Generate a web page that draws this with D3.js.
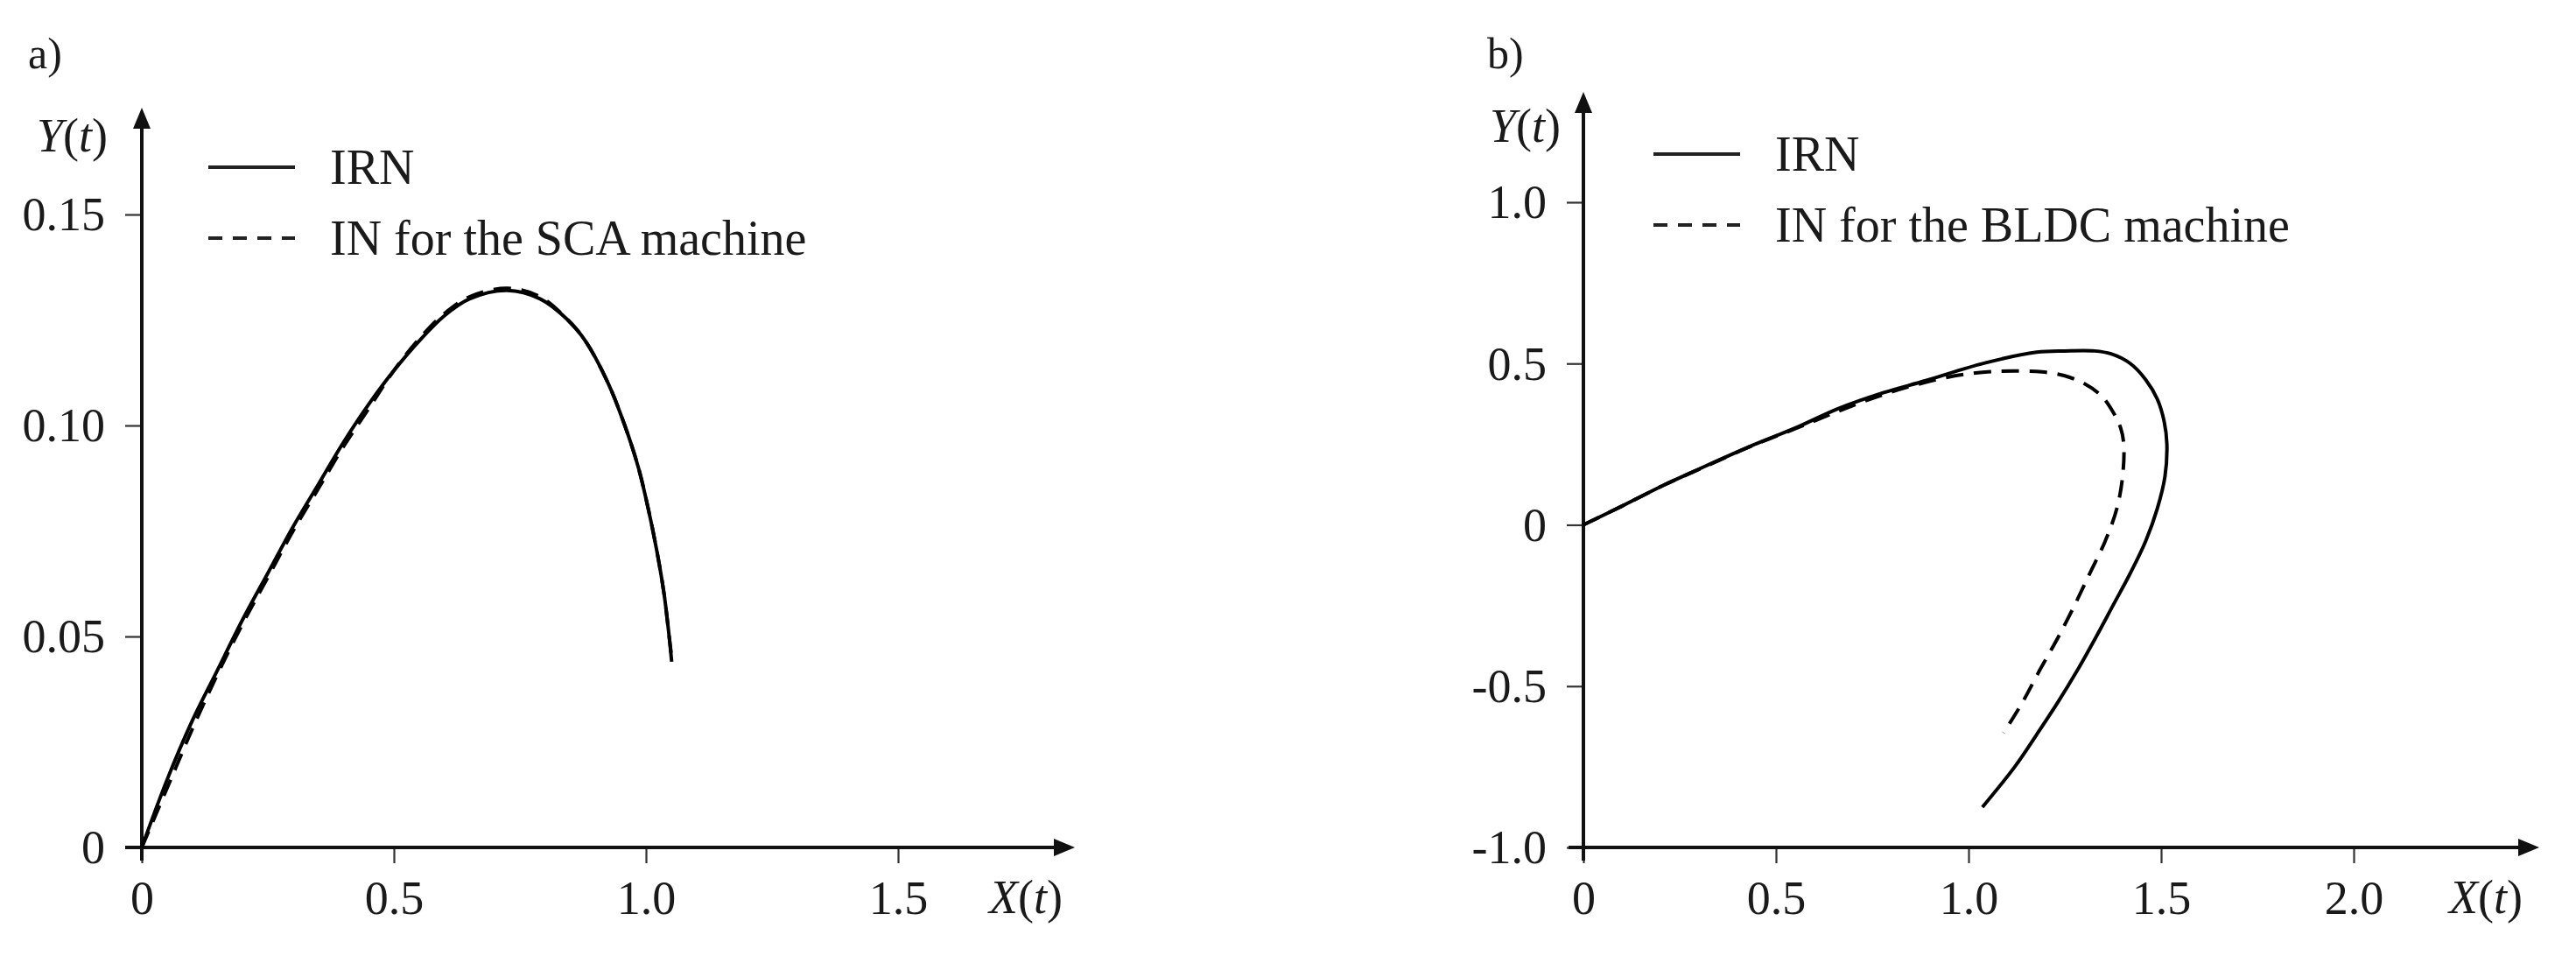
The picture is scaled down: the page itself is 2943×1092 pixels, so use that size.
<!DOCTYPE html>
<html>
<head>
<meta charset="utf-8">
<script src="https://cdn.jsdelivr.net/npm/d3@7"></script>
<style>
  html, body { margin: 0; padding: 0; background: #fff; }
  svg { display: block; }
  text { font-family: "Liberation Serif", "DejaVu Serif", serif; fill: #1a1a1a; }
</style>
</head>
<body>
<svg id="chart" width="2943" height="1092"></svg>
<script>
// ---------- DATA ----------
// Panel a) SCA machine
const aIRN_X = [0, 0.05, 0.1, 0.15, 0.2, 0.25, 0.3, 0.35, 0.4, 0.45, 0.5, 0.55, 0.6, 0.65, 0.725, 0.79, 0.845, 0.88, 0.925, 0.958, 0.985, 1.005, 1.022, 1.036, 1.046, 1.051];
const aIRN_Y = [0, 0.016, 0.030, 0.042, 0.054, 0.065, 0.076, 0.086, 0.096, 0.105, 0.113, 0.120, 0.126, 0.130, 0.132, 0.130, 0.125, 0.120, 0.110, 0.100, 0.090, 0.080, 0.070, 0.060, 0.050, 0.044];
const aIN_X  = [0, 0.05, 0.1, 0.15, 0.2, 0.25, 0.3, 0.35, 0.4, 0.45, 0.5, 0.55, 0.6, 0.65, 0.725, 0.79, 0.845, 0.88, 0.925, 0.958, 0.985, 1.005, 1.022, 1.036, 1.046, 1.051];
const aIN_Y  = [0, 0.014, 0.028, 0.041, 0.053, 0.064, 0.075, 0.085, 0.095, 0.104, 0.113, 0.1205, 0.1265, 0.1305, 0.1325, 0.1305, 0.125, 0.120, 0.110, 0.100, 0.090, 0.080, 0.070, 0.060, 0.050, 0.045];
const aXTicks = [0, 0.5, 1.0, 1.5];
const aXTickLabels = ["0", "0.5", "1.0", "1.5"];
const aYTicks = [0, 0.05, 0.10, 0.15];
const aYTickLabels = ["0", "0.05", "0.10", "0.15"];
const aLegend = ["IRN", "IN for the SCA machine"];

// Panel b) BLDC machine
const bIRN_X = [0, 0.1, 0.207, 0.3, 0.434, 0.55, 0.661, 0.78, 0.889, 1.04, 1.177, 1.25, 1.327, 1.37, 1.42, 1.46, 1.49, 1.508, 1.515, 1.51, 1.49, 1.46, 1.42, 1.375, 1.33, 1.283, 1.232, 1.177, 1.12, 1.036];
const bIRN_Y = [0, 0.058, 0.122, 0.173, 0.244, 0.300, 0.360, 0.410, 0.447, 0.501, 0.535, 0.539, 0.539, 0.530, 0.500, 0.450, 0.390, 0.320, 0.250, 0.150, 0.050, -0.050, -0.150, -0.250, -0.350, -0.450, -0.550, -0.650, -0.750, -0.875];
const bIN_X  = [0, 0.1, 0.207, 0.3, 0.434, 0.55, 0.661, 0.75, 0.836, 0.964, 1.05, 1.116, 1.191, 1.25, 1.30, 1.345, 1.375, 1.395, 1.403, 1.40, 1.385, 1.355, 1.315, 1.275, 1.232, 1.185, 1.14, 1.091];
const bIN_Y  = [0, 0.058, 0.122, 0.172, 0.243, 0.298, 0.352, 0.392, 0.425, 0.462, 0.474, 0.477, 0.474, 0.462, 0.438, 0.400, 0.350, 0.300, 0.250, 0.150, 0.050, -0.050, -0.150, -0.250, -0.350, -0.450, -0.550, -0.645];
const bXTicks = [0, 0.5, 1.0, 1.5, 2.0];
const bXTickLabels = ["0", "0.5", "1.0", "1.5", "2.0"];
const bYTicks = [-1.0, -0.5, 0, 0.5, 1.0];
const bYTickLabels = ["-1.0", "-0.5", "0", "0.5", "1.0"];
const bLegend = ["IRN", "IN for the BLDC machine"];

// ---------- DRAW ----------
const svg = d3.select("#chart");
const FS = 54;
const FS_LEG = 56;

function zip(xs, ys) { return xs.map((x, i) => [x, ys[i]]); }

function panel(opt) {
  const g = svg.append("g");
  const x = d3.scaleLinear().domain(opt.xDomain).range(opt.xRange);
  const y = d3.scaleLinear().domain(opt.yDomain).range(opt.yRange);
  const x0 = opt.xRange[0], yBase = opt.yRange[0];

  // axes with ticks
  const xAxis = d3.axisBottom(x).tickValues(opt.xTicks)
    .tickFormat((d, i) => opt.xTickLabels[i]).tickSize(18).tickPadding(20);
  const yAxis = d3.axisLeft(y).tickValues(opt.yTicks)
    .tickFormat((d, i) => opt.yTickLabels[i]).tickSize(19).tickPadding(23);

  const gx = g.append("g").attr("transform", `translate(0,${yBase})`).call(xAxis);
  const gy = g.append("g").attr("transform", `translate(${x0},0)`).call(yAxis);
  [gx, gy].forEach(a => {
    a.select(".domain").remove();
    a.selectAll(".tick line").attr("stroke", "#333").attr("stroke-width", 2.2);
    a.selectAll(".tick text").attr("font-size", FS).attr("fill", "#1a1a1a")
      .style("font-family", '"Liberation Serif", serif');
  });
  gx.selectAll(".tick text").attr("dy", "0.71em");
  gy.selectAll(".tick text").attr("dy", "0.33em");

  // axis lines with arrows
  g.append("line").attr("x1", opt.xLineStart).attr("x2", opt.xArrow - 14)
    .attr("y1", yBase).attr("y2", yBase).attr("stroke", "#111").attr("stroke-width", 4);
  g.append("path")
    .attr("d", `M${opt.xArrow},${yBase} L${opt.xArrow - 24},${yBase - 10} L${opt.xArrow - 24},${yBase + 10} Z`)
    .attr("fill", "#111");
  g.append("line").attr("x1", x0).attr("x2", x0)
    .attr("y1", yBase + 15).attr("y2", opt.yArrow + 14).attr("stroke", "#111").attr("stroke-width", 4);
  g.append("path")
    .attr("d", `M${x0},${opt.yArrow} L${x0 - 10},${opt.yArrow + 24} L${x0 + 10},${opt.yArrow + 24} Z`)
    .attr("fill", "#111");

  // axis titles
  const yt = g.append("text").attr("x", opt.yTitleX).attr("y", opt.yTitleY)
    .attr("text-anchor", "end").attr("font-size", FS).attr("fill", "#333");
  yt.append("tspan").attr("font-style", "italic").text("Y");
  yt.append("tspan").text("(");
  yt.append("tspan").attr("font-style", "italic").text("t");
  yt.append("tspan").text(")");
  const xt = g.append("text").attr("x", opt.xTitleX).attr("y", yBase + 75)
    .attr("text-anchor", "start").attr("font-size", FS).attr("fill", "#333");
  xt.append("tspan").attr("font-style", "italic").text("X");
  xt.append("tspan").text("(");
  xt.append("tspan").attr("font-style", "italic").text("t");
  xt.append("tspan").text(")");

  // panel letter
  g.append("text").attr("x", opt.letterX).attr("y", 78).attr("font-size", FS - 4)
    .text(opt.letter);

  // curves
  const line = d3.line().x(d => x(d[0])).y(d => y(d[1])).curve(d3.curveCatmullRom.alpha(0.5));
  g.append("path").datum(opt.irn).attr("d", line).attr("fill", "none")
    .attr("stroke", "#000").attr("stroke-width", 4).attr("stroke-linejoin", "round");
  g.append("path").datum(opt.inn).attr("d", line).attr("fill", "none")
    .attr("stroke", "#000").attr("stroke-width", 4).attr("stroke-dasharray", "20,12");

  // legend
  const lg = g.append("g");
  opt.legend.forEach((t, i) => {
    const ly = opt.legY + i * 81;
    lg.append("line").attr("x1", opt.legX).attr("x2", opt.legX + 99)
      .attr("y1", ly).attr("y2", ly).attr("stroke", "#222").attr("stroke-width", 4)
      .attr("stroke-dasharray", i === 1 ? "16,12" : null);
    lg.append("text").attr("x", opt.legX + 139).attr("y", ly + 19)
      .attr("font-size", FS_LEG).attr("fill", "#1a1a1a").text(t);
  });
}

panel({
  letter: "a)", letterX: 32,
  xDomain: [0, 1.5], xRange: [162, 1026],
  yDomain: [0, 0.15], yRange: [968, 245],
  xTicks: aXTicks, xTickLabels: aXTickLabels,
  yTicks: aYTicks, yTickLabels: aYTickLabels,
  xLineStart: 143, xArrow: 1228, yArrow: 123,
  yTitleX: 123, yTitleY: 173, xTitleX: 1130,
  irn: zip(aIRN_X, aIRN_Y), inn: zip(aIN_X, aIN_Y),
  legend: aLegend, legX: 238, legY: 191
});

panel({
  letter: "b)", letterX: 1699,
  xDomain: [0, 2.0], xRange: [1809, 2689],
  yDomain: [-1.0, 1.0], yRange: [968, 231],
  xTicks: bXTicks, xTickLabels: bXTickLabels,
  yTicks: bYTicks, yTickLabels: bYTickLabels,
  xLineStart: 1792, xArrow: 2901, yArrow: 105,
  yTitleX: 1783, yTitleY: 162, xTitleX: 2798,
  irn: zip(bIRN_X, bIRN_Y), inn: zip(bIN_X, bIN_Y),
  legend: bLegend, legX: 1889, legY: 176
});
</script>
</body>
</html>
